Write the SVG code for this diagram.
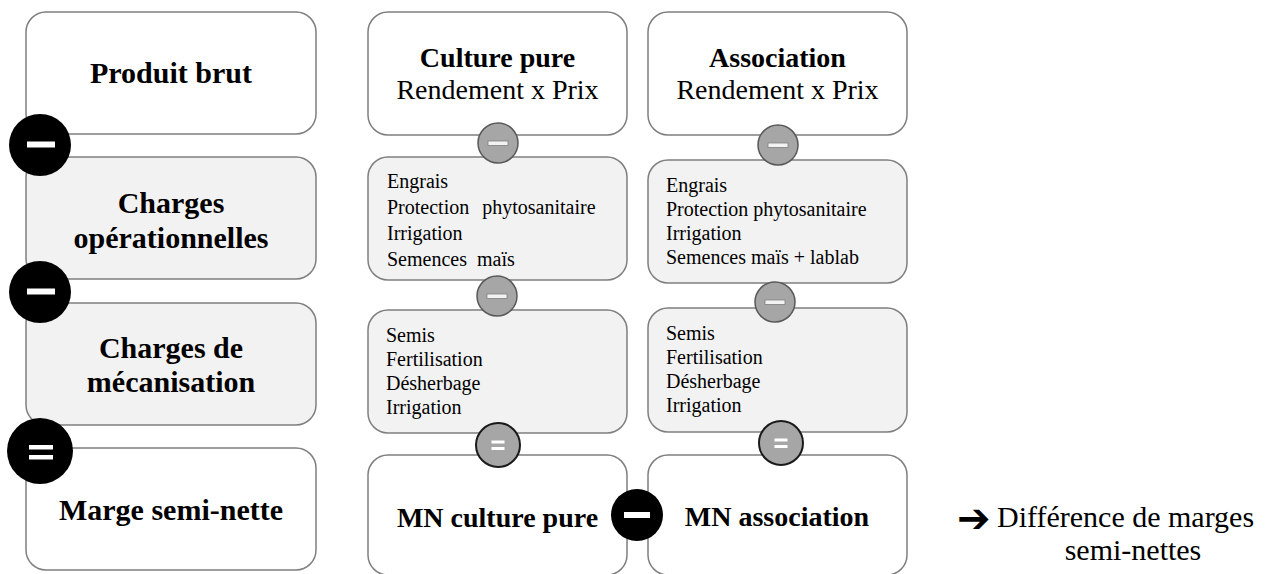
<svg xmlns="http://www.w3.org/2000/svg" width="1275" height="574" viewBox="0 0 1275 574">
<style>
.box{stroke:#7f7f7f;stroke-width:1.5}
.w{fill:#ffffff}
.g{fill:#f2f2f2}
.t{font-family:"Liberation Serif","Times New Roman",serif;fill:#000}
.b{font-weight:bold}
.big{font-size:30px}
.mid{font-size:28px}
.sm{font-size:20px}
.blk{fill:#000}
.bar{fill:#fff}
.gc{fill:#a6a6a6;stroke:#595959;stroke-width:1.5}
.gce{fill:#a6a6a6;stroke:#1a1a1a;stroke-width:2}
.gbar{fill:#f2f2f2;stroke:#7f7f7f;stroke-width:0.8}
</style>
<rect width="1275" height="574" fill="#fff"/>
<g id="connectors"></g>

<!-- left column -->
<g id="produit-brut">
<rect class="box w" x="26" y="12" width="290" height="122" rx="20"/>
<text class="t b big" x="171" y="83" text-anchor="middle">Produit brut</text>
</g>
<g id="charges-operationnelles">
<rect class="box g" x="26" y="157" width="290" height="122" rx="20"/>
<text class="t b big" x="171" y="213" text-anchor="middle">Charges</text>
<text class="t b big" x="171" y="248" text-anchor="middle">opérationnelles</text>
</g>
<g id="charges-mecanisation">
<rect class="box g" x="26" y="303" width="290" height="122" rx="20"/>
<text class="t b big" x="171" y="358" text-anchor="middle">Charges de</text>
<text class="t b big" x="171" y="392" text-anchor="middle">mécanisation</text>
</g>
<g id="marge-semi-nette">
<rect class="box w" x="26" y="448" width="290" height="122" rx="20"/>
<text class="t b big" x="171" y="520" text-anchor="middle">Marge semi-nette</text>
</g>

<!-- culture pure column -->
<g id="culture-pure">
<rect class="box w" x="368" y="12" width="259" height="123" rx="20"/>
<text class="t b mid" x="497.5" y="67" text-anchor="middle">Culture pure</text>
<text class="t mid" x="497.5" y="99" text-anchor="middle">Rendement x Prix</text>
</g>
<g id="cp-charges-op">
<rect class="box g" x="368" y="157" width="259" height="123" rx="20"/>
<text class="t sm" x="387" y="188">Engrais</text>
<text class="t sm" x="387" y="214" word-spacing="8">Protection phytosanitaire</text>
<text class="t sm" x="387" y="240">Irrigation</text>
<text class="t sm" x="387" y="266" word-spacing="5">Semences maïs</text>
</g>
<g id="cp-charges-meca">
<rect class="box g" x="368" y="310" width="259" height="123" rx="20"/>
<text class="t sm" x="386" y="342">Semis</text>
<text class="t sm" x="386" y="366">Fertilisation</text>
<text class="t sm" x="386" y="390">Désherbage</text>
<text class="t sm" x="386" y="414">Irrigation</text>
</g>
<g id="mn-culture-pure">
<rect class="box w" x="368" y="455" width="259" height="120" rx="20"/>
<text class="t b mid" x="497.5" y="527" text-anchor="middle">MN culture pure</text>
</g>

<!-- association column -->
<g id="association">
<rect class="box w" x="648" y="12" width="259" height="123" rx="20"/>
<text class="t b mid" x="777.5" y="67" text-anchor="middle">Association</text>
<text class="t mid" x="777.5" y="99" text-anchor="middle">Rendement x Prix</text>
</g>
<g id="as-charges-op">
<rect class="box g" x="648" y="160" width="259" height="123" rx="20"/>
<text class="t sm" x="666" y="192">Engrais</text>
<text class="t sm" x="666" y="216">Protection phytosanitaire</text>
<text class="t sm" x="666" y="240">Irrigation</text>
<text class="t sm" x="666" y="264">Semences maïs + lablab</text>
</g>
<g id="as-charges-meca">
<rect class="box g" x="648" y="308" width="259" height="124" rx="20"/>
<text class="t sm" x="666" y="340">Semis</text>
<text class="t sm" x="666" y="364">Fertilisation</text>
<text class="t sm" x="666" y="388">Désherbage</text>
<text class="t sm" x="666" y="412">Irrigation</text>
</g>
<g id="mn-association">
<rect class="box w" x="648" y="455" width="259" height="120" rx="20"/>
<text class="t b mid" x="777" y="526" text-anchor="middle">MN association</text>
</g>

<!-- operators left -->
<g id="op-minus-1">
<circle class="blk" cx="40" cy="145" r="31"/>
<rect class="bar" x="27" y="141.5" width="28" height="6"/>
</g>
<g id="op-minus-2">
<circle class="blk" cx="40" cy="292" r="31"/>
<rect class="bar" x="27" y="288.5" width="28" height="6"/>
</g>
<g id="op-equal-1">
<circle class="blk" cx="40" cy="451" r="33"/>
<rect class="bar" x="29" y="445" width="24" height="4.5"/>
<rect class="bar" x="29" y="455" width="24" height="4.5"/>
</g>

<!-- operators culture pure -->
<g id="op-cp-minus-1">
<circle class="gc" cx="498" cy="143" r="20"/>
<rect class="gbar" x="488" y="141" width="20" height="4.5"/>
</g>
<g id="op-cp-minus-2">
<circle class="gc" cx="497" cy="296" r="20"/>
<rect class="gbar" x="487" y="294" width="20" height="4.5"/>
</g>
<g id="op-cp-equal">
<circle class="gce" cx="498" cy="445" r="22"/>
<rect class="bar" x="491.5" y="440.5" width="13" height="3"/>
<rect class="bar" x="491.5" y="447" width="13" height="3"/>
</g>

<!-- operators association -->
<g id="op-as-minus-1">
<circle class="gc" cx="778" cy="145" r="20"/>
<rect class="gbar" x="768" y="143" width="20" height="4.5"/>
</g>
<g id="op-as-minus-2">
<circle class="gc" cx="775" cy="302" r="20"/>
<rect class="gbar" x="765" y="300" width="20" height="4.5"/>
</g>
<g id="op-as-equal">
<circle class="gce" cx="781" cy="443" r="22"/>
<rect class="bar" x="774.5" y="438.5" width="13" height="3"/>
<rect class="bar" x="774.5" y="445" width="13" height="3"/>
</g>

<!-- difference operator -->
<g id="op-mn-minus">
<circle class="blk" cx="637" cy="515" r="26"/>
<rect class="bar" x="624" y="512" width="26" height="6"/>
</g>

<g id="difference-label">
<text x="957" y="532" font-family="'DejaVu Sans',sans-serif" font-size="40" font-weight="bold" fill="#000">➔</text>
<text class="t" x="997" y="527" font-size="30">Différence de marges</text>
<text class="t" x="1133" y="560" font-size="30" text-anchor="middle">semi-nettes</text>
</g>
</svg>
